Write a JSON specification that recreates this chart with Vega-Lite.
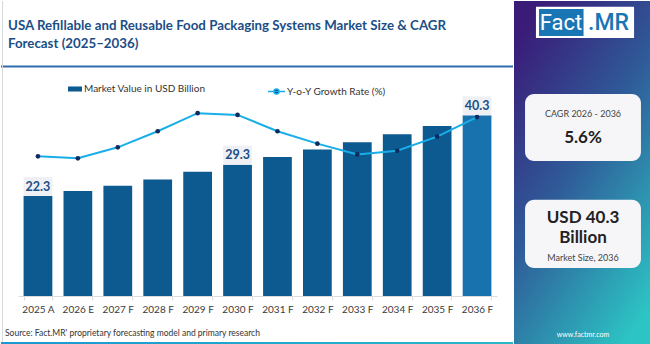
{
  "$schema": "https://vega.github.io/schema/vega-lite/v6.json",
  "padding": 0,
  "spacing": 0,
  "background": "white",
  "config": {"view": {"stroke": null}, "font": "Lato"},
  "datasets": {
    "market": [
      {"year": "2025 A", "value": 22.3, "growth": 5.73},
      {"year": "2026 E", "value": 23.4, "growth": 5.65},
      {"year": "2027 F", "value": 24.6, "growth": 6.10},
      {"year": "2028 F", "value": 26.0, "growth": 6.76},
      {"year": "2029 F", "value": 27.7, "growth": 7.50},
      {"year": "2030 F", "value": 29.3, "growth": 7.43},
      {"year": "2031 F", "value": 31.0, "growth": 6.76},
      {"year": "2032 F", "value": 32.7, "growth": 6.25},
      {"year": "2033 F", "value": 34.3, "growth": 5.81},
      {"year": "2034 F", "value": 36.1, "growth": 5.96},
      {"year": "2035 F", "value": 37.9, "growth": 6.54},
      {"year": "2036 F", "value": 40.3, "growth": 7.34}
    ],
    "blank": [{}]
  },
  "hconcat": [
    {
      "width": 512,
      "height": 344,
      "layer": [
        {
          "data": {"name": "blank"},
          "layer": [
            {
              "mark": {"type": "text", "text": ["USA Refillable and Reusable Food Packaging Systems Market Size & CAGR", "Forecast (2025–2036)"], "align": "left", "baseline": "alphabetic", "fontSize": 13.3, "fontWeight": "bold", "color": "#1b4e86", "lineHeight": 17.4},
              "encoding": {
                "x": {"datum": 0.0137, "type": "quantitative", "scale": {"domain": [0, 1]}, "axis": null},
                "y": {"datum": 0.0852, "type": "quantitative", "scale": {"domain": [0, 1], "reverse": true}, "axis": null}
              }
            },
            {
              "mark": {"type": "rule", "color": "#2f6fae", "strokeWidth": 2},
              "encoding": {
                "x": {"datum": 0, "type": "quantitative", "scale": {"domain": [0, 1]}, "axis": null},
                "x2": {"datum": 1},
                "y": {"datum": 0.1904, "type": "quantitative", "scale": {"domain": [0, 1], "reverse": true}, "axis": null}
              }
            },
            {
              "mark": {"type": "rule", "color": "#d5d9de", "strokeWidth": 1},
              "encoding": {
                "x": {"datum": 0.003, "type": "quantitative", "scale": {"domain": [0, 1]}, "axis": null},
                "y": {"datum": 0, "type": "quantitative", "scale": {"domain": [0, 1], "reverse": true}, "axis": null},
                "y2": {"datum": 0.991}
              }
            },
            {
              "mark": {"type": "rect", "color": {"gradient": "linear", "x1": 0, "y1": 0, "x2": 1, "y2": 0, "stops": [{"offset": 0, "color": "#1b98d0"}, {"offset": 1, "color": "#27b8c8"}]}},
              "encoding": {
                "x": {"datum": 0, "type": "quantitative", "scale": {"domain": [0, 1]}, "axis": null},
                "x2": {"datum": 1},
                "y": {"datum": 0.991, "type": "quantitative", "scale": {"domain": [0, 1], "reverse": true}, "axis": null},
                "y2": {"datum": 1}
              }
            },
            {
              "mark": {"type": "text", "text": "Source: Fact.MR' proprietary forecasting model and primary research", "align": "left", "baseline": "middle", "fontSize": 8.5, "color": "#333333"},
              "encoding": {
                "x": {"datum": 0.0078, "type": "quantitative", "scale": {"domain": [0, 1]}, "axis": null},
                "y": {"datum": 0.965, "type": "quantitative", "scale": {"domain": [0, 1], "reverse": true}, "axis": null}
              }
            }
          ]
        },
        {
          "data": {"name": "market"},
          "encoding": {
            "x": {
              "field": "year", "type": "nominal", "sort": null,
              "scale": {"range": [17, 496], "paddingInner": 0.28, "paddingOuter": 0.14},
              "axis": {"title": null, "offset": -49, "domainColor": "#dcdcdc", "tickColor": "#dcdcdc", "tickBand": "extent", "tickSize": 4, "labelFontSize": 10, "labelColor": "#3a3a3a", "labelPadding": 4, "labelAngle": 0, "grid": false}
            }
          },
          "layer": [
            {
              "mark": {"type": "bar"},
              "encoding": {
                "y": {"field": "value", "type": "quantitative", "scale": {"domain": [0, 43.5], "range": [295, 100]}, "axis": null},
                "color": {
                  "datum": "Market Value in USD Billion",
                  "scale": {"range": ["#0c5a8f"]},
                  "condition": {"test": "datum.year === '2036 F'", "value": "#1872ad"},
                  "legend": {"orient": "none", "legendX": 67, "legendY": 81, "title": null, "symbolType": "M-1,-0.36H1V0.36H-1Z", "symbolSize": 196, "symbolStrokeWidth": 0, "labelFontSize": 10, "labelColor": "#333333", "labelOffset": 2, "padding": 0}
                }
              }
            },
            {
              "transform": [{"filter": {"field": "year", "oneOf": ["2025 A", "2030 F", "2036 F"]}}],
              "mark": {"type": "rect", "color": "#eef0f3", "y2Offset": -19},
              "encoding": {
                "y": {"field": "value", "type": "quantitative", "scale": {"domain": [0, 43.5], "range": [295, 100]}, "axis": null},
                "y2": {"field": "value"}
              }
            },
            {
              "transform": [{"filter": {"field": "year", "oneOf": ["2025 A", "2030 F", "2036 F"]}}],
              "mark": {"type": "text", "fontWeight": "bold", "fontSize": 12.5, "color": "#1b4e86", "dy": -9.5, "baseline": "middle"},
              "encoding": {
                "y": {"field": "value", "type": "quantitative", "scale": {"domain": [0, 43.5], "range": [295, 100]}, "axis": null},
                "text": {"field": "value", "type": "quantitative", "format": ".1f"}
              }
            },
            {
              "mark": {"type": "line", "strokeWidth": 2},
              "encoding": {
                "y": {"field": "growth", "type": "quantitative", "scale": {"domain": [0, 8], "range": [295, 100]}, "axis": null},
                "stroke": {
                  "datum": "Y-o-Y Growth Rate (%)",
                  "scale": {"range": ["#1aaee8"]},
                  "legend": {"orient": "none", "legendX": 266, "legendY": 81, "title": null, "symbolType": "M-1,0H1M-0.3,0A0.3,0.3 0 1 1 0.3,0A0.3,0.3 0 1 1 -0.3,0", "symbolSize": 289, "symbolStrokeWidth": 1.5, "symbolFillColor": "#0d2b5e", "labelFontSize": 10, "labelColor": "#333333", "labelOffset": 1, "padding": 0}
                }
              }
            },
            {
              "mark": {"type": "point", "filled": true, "color": "#0d2b5e", "size": 22, "opacity": 1},
              "encoding": {
                "y": {"field": "growth", "type": "quantitative", "scale": {"domain": [0, 8], "range": [295, 100]}, "axis": null}
              }
            }
          ],
          "resolve": {"scale": {"y": "independent"}}
        }
      ],
      "resolve": {"scale": {"x": "independent", "y": "independent"}}
    },
    {
      "width": 138,
      "height": 344,
      "data": {"name": "blank"},
      "encoding": {
        "x": {"datum": 0, "type": "quantitative", "scale": {"domain": [0, 1]}, "axis": null},
        "y": {"datum": 0, "type": "quantitative", "scale": {"domain": [0, 1], "reverse": true}, "axis": null}
      },
      "layer": [
        {
          "mark": {"type": "rect", "color": {"gradient": "linear", "x1": 0.2, "y1": 0, "x2": 0.8, "y2": 1, "stops": [{"offset": 0, "color": "#3a1b78"}, {"offset": 0.45, "color": "#2f5a98"}, {"offset": 1, "color": "#2cc4c4"}]}},
          "encoding": {"x": {"datum": 0}, "x2": {"datum": 1}, "y": {"datum": 0}, "y2": {"datum": 1}}
        },
        {
          "mark": {"type": "rect", "color": "#ffffff"},
          "encoding": {"x": {"datum": 0.159}, "x2": {"datum": 0.87}, "y": {"datum": 0.0166}, "y2": {"datum": 0.1076}}
        },
        {
          "mark": {"type": "rect", "color": "#1a75b5"},
          "encoding": {"x": {"datum": 0.181}, "x2": {"datum": 0.504}, "y": {"datum": 0.023}, "y2": {"datum": 0.102}}
        },
        {
          "mark": {"type": "text", "text": "Fact", "font": "Roboto", "fontSize": 22, "color": "#ffffff", "baseline": "middle", "align": "center"},
          "encoding": {"x": {"datum": 0.341}, "y": {"datum": 0.0625}}
        },
        {
          "mark": {"type": "text", "text": ".MR", "font": "Roboto", "fontSize": 23, "fontWeight": 500, "color": "#1a75b5", "baseline": "middle", "align": "center"},
          "encoding": {"x": {"datum": 0.685}, "y": {"datum": 0.0625}}
        },
        {
          "mark": {"type": "rect", "color": "#f6f6f9", "cornerRadius": 9},
          "encoding": {"x": {"datum": 0.08}, "x2": {"datum": 0.92}, "y": {"datum": 0.27}, "y2": {"datum": 0.465}}
        },
        {
          "mark": {"type": "text", "text": "CAGR 2026 - 2036", "fontSize": 9, "color": "#444444", "baseline": "middle", "align": "center"},
          "encoding": {"x": {"datum": 0.5}, "y": {"datum": 0.328}}
        },
        {
          "mark": {"type": "text", "text": "5.6%", "fontSize": 17, "fontWeight": "bold", "color": "#222222", "baseline": "middle", "align": "center"},
          "encoding": {"x": {"datum": 0.5}, "y": {"datum": 0.398}}
        },
        {
          "mark": {"type": "rect", "color": "#f6f6f9", "cornerRadius": 9},
          "encoding": {"x": {"datum": 0.08}, "x2": {"datum": 0.92}, "y": {"datum": 0.578}, "y2": {"datum": 0.776}}
        },
        {
          "mark": {"type": "text", "text": ["USD 40.3", "Billion"], "fontSize": 17, "fontWeight": "bold", "color": "#222222", "baseline": "middle", "align": "center", "lineHeight": 20},
          "encoding": {"x": {"datum": 0.5}, "y": {"datum": 0.631}}
        },
        {
          "mark": {"type": "text", "text": "Market Size, 2036", "fontSize": 9, "color": "#444444", "baseline": "middle", "align": "center"},
          "encoding": {"x": {"datum": 0.5}, "y": {"datum": 0.747}}
        },
        {
          "mark": {"type": "text", "text": "www.factmr.com", "fontSize": 7, "color": "#ffffff", "baseline": "middle", "align": "center"},
          "encoding": {"x": {"datum": 0.5}, "y": {"datum": 0.971}}
        }
      ]
    }
  ]
}
